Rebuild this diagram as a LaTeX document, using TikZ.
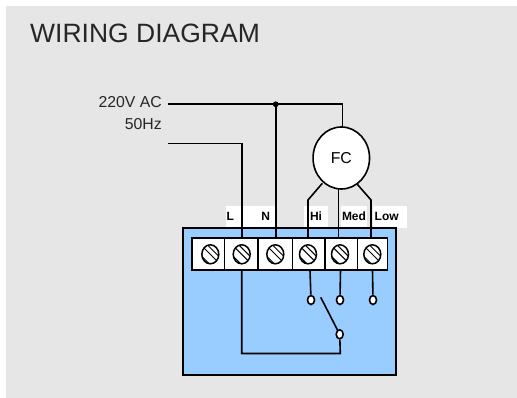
\documentclass[tikz,border=0pt]{standalone}
\usepackage{fontspec}
\setmainfont{Liberation Sans}
\usetikzlibrary{shapes.geometric}
\definecolor{panelgray}{RGB}{230,230,230}
\definecolor{boxblue}{RGB}{153,204,255}
\tikzset{
  wire/.style={draw=black,line width=1.6pt},
  ring/.style={ellipse,draw=black,fill=white,line width=1.6pt,minimum width=7pt,minimum height=9pt,inner sep=0pt},
  lab/.style={font=\fontsize{12}{14}\selectfont\bfseries,text=black,inner sep=0pt},
  plain/.style={font=\fontsize{15.8}{18}\selectfont,text=black!85,inner sep=0pt}
}
\begin{document}
\begin{tikzpicture}[x=1pt,y=-1pt]
\useasboundingbox (0,0) rectangle (517,398);
\fill[white] (0,0) rectangle (517,398);
\fill[panelgray] (6,6) rectangle (517,398);
\node[plain,font=\fontsize{26.5}{30}\selectfont,anchor=base west] (title) at (30,43) {WIRING DIAGRAM};
\node[plain,anchor=base east] (v) at (162,108) {220V AC};
\node[plain,anchor=base east] (hz) at (162,130) {50Hz};
% white label backgrounds
\fill[white] (226,206) rectangle (276,228);
\fill[white] (304,206) rectangle (328,228);
\fill[white] (341,206) rectangle (367,228);
\fill[white] (373,206) rectangle (407,228);
% enclosure
\draw[fill=boxblue,line width=1.7pt] (183,228) rectangle (396,375);
% terminals
\foreach \n/\a/\b/\c in {1/192/224.5/210.3,2/224.5/258/241.7,3/258/292.3/275.3,4/292.3/325/308,5/325/357.3/340,6/357.3/387.5/372.3}{
  \draw[fill=white,line width=1.6pt] (\a,238) rectangle (\b,270);
  \begin{scope}
    \clip (\c,254.3) ellipse [x radius=8.5pt,y radius=9.5pt];
    \draw[line width=1pt] (\c-10,254.3-10) -- (\c+10,254.3+10);
    \draw[line width=1pt] (\c-3.5,254.3-10) -- (\c+14,254.3+7.5);
    \draw[line width=1pt] (\c-14,254.3-3.5) -- (\c+3.5,254.3+14);
  \end{scope}
  \node[ellipse,draw=black,line width=1.5pt,minimum width=17pt,minimum height=19pt,inner sep=0pt] (s\n) at (\c,254.3) {};
}
\coordinate (tL) at (241.7,238);
\coordinate (tN) at (275.7,238);
\coordinate (tH) at (308,238);
\coordinate (tM) at (338.3,238);
\coordinate (tW) at (371,238);
% fan
\node[ellipse,draw=black,fill=white,line width=1.6pt,minimum width=56.5pt,minimum height=62pt,inner sep=0pt,font=\fontsize{15.8}{18}\selectfont] (fc) at (341.3,158) {FC};
\coordinate (vs) at (168.3,104.3);
\coordinate (ls) at (168.3,143.7);
\coordinate (j) at (275.7,104.3);
\fill (j) circle (2.9pt);
\draw[wire] (vs) -- (342.3,104.3) -- (342.3,127);
\draw[wire] (j) -- (tN);
\draw[wire] (ls) -- (241.7,143.7) -- (tL);
\coordinate (lg) at (322.3,183.3);
\coordinate (rg) at (357.3,184.3);
\draw[wire] (lg) -- (308,200) -- (tH);
\draw[wire] (338.3,189) -- (tM);
\draw[wire] (rg) -- (371,200) -- (tW);
% labels
\node[lab,anchor=base] (lL) at (230.3,220.7) {L};
\node[lab,anchor=base] (lN) at (265.7,220.7) {N};
\node[lab,anchor=base] (lH) at (316,220.7) {Hi};
\node[lab,anchor=base] (lM) at (354,220.7) {Med};
\node[lab,anchor=base] (lO) at (386.7,220.7) {Low};
% lower wiring
\node[ring] (rH) at (311,300) {};
\node[ring] (rM) at (340,300) {};
\node[ring] (rO) at (373,300) {};
\node[ring] (rS) at (339.7,334.3) {};
\draw[wire] (310,270) -- (rH);
\draw[wire] (340.5,270) -- (rM);
\draw[wire] (372.5,270) -- (rO);
\draw[wire] (241.7,270) -- (241.7,353.5) -- (340.3,353.5) -- (rS);
\coordinate (arm) at (320.7,297.3);
\draw[wire] (arm) -- (rS);
\end{tikzpicture}
\end{document}
